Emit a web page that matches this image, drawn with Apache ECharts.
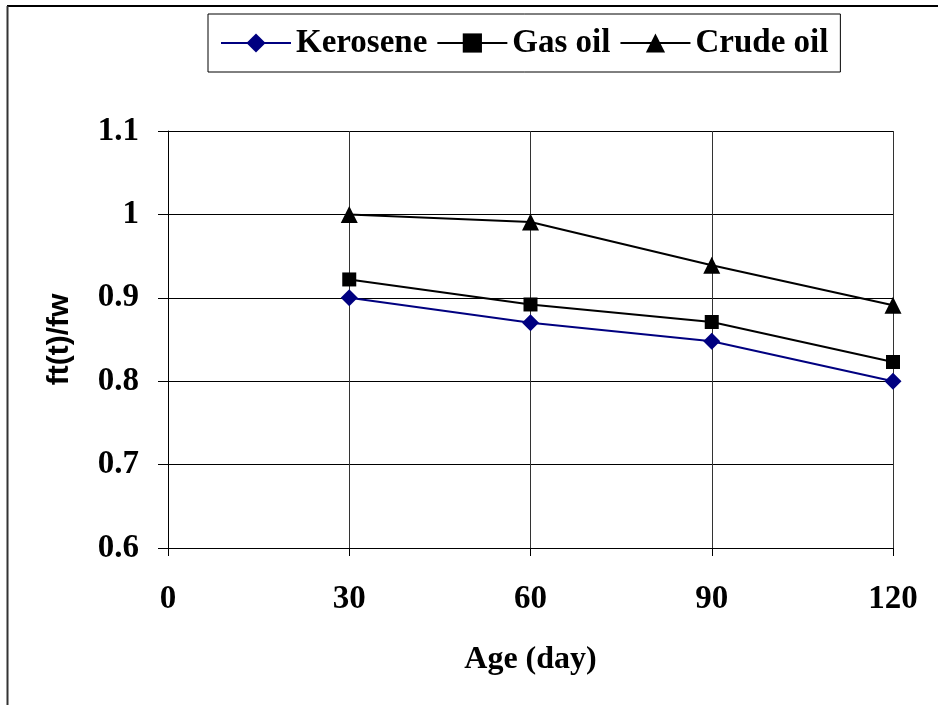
<!DOCTYPE html>
<html>
<head>
<meta charset="utf-8">
<script src="https://cdn.jsdelivr.net/npm/echarts@6/dist/echarts.min.js"></script>
<style>
html,body{margin:0;padding:0;background:#fff;}
#chart{width:938px;height:705px;}
</style>
</head>
<body>
<div id="chart"></div>
<script>
var ages = [30, 60, 90, 120];
var kerosene = [0.900, 0.870, 0.848, 0.800];
var gasOil = [0.922, 0.892, 0.871, 0.823];
var crudeOil = [1.000, 0.991, 0.939, 0.891];
var xTicks = [0, 30, 60, 90, 120];
var yTicks = [0.6, 0.7, 0.8, 0.9, 1.0, 1.1];
var seriesNames = ['Kerosene', 'Gas oil', 'Crude oil'];

function pairs(xs, ys) { return xs.map(function (x, i) { return [x, ys[i]]; }); }

var serif = 'Liberation Serif';
var chart = echarts.init(document.getElementById('chart'), null, { renderer: 'canvas' });
chart.setOption({
  backgroundColor: '#fff',
  animation: false,
  graphic: [
    { type: 'line', shape: { x1: 7, y1: 6, x2: 938, y2: 6 }, style: { stroke: '#000', lineWidth: 2 } },
    { type: 'line', shape: { x1: 7.5, y1: 6, x2: 7.5, y2: 705 }, style: { stroke: '#333', lineWidth: 2 } }
  ],
  legend: {
    data: seriesNames,
    left: 208, top: 14,
    padding: [12, 12, 12, 12],
    borderColor: '#000', borderWidth: 1,
    itemWidth: 70, itemHeight: 24, itemGap: 9,
    lineStyle: { width: 2 },
    textStyle: { fontFamily: serif, fontWeight: 'bold', fontSize: 33, lineHeight: 34, color: '#000' }
  },
  grid: { left: 168, right: 45, top: 131, bottom: 157, containLabel: false },
  xAxis: {
    type: 'value', min: xTicks[0], max: xTicks[xTicks.length - 1], interval: 30,
    name: 'Age (day)', nameLocation: 'middle', nameGap: 96,
    nameTextStyle: { fontFamily: serif, fontWeight: 'bold', fontSize: 32, color: '#000' },
    axisLine: { show: true, onZero: false, lineStyle: { color: '#000', width: 1 } },
    axisTick: { show: true, inside: false, length: 8, lineStyle: { color: '#000' } },
    axisLabel: { margin: 35, fontFamily: serif, fontWeight: 'bold', fontSize: 33, color: '#000' },
    splitLine: { show: true, lineStyle: { color: '#333', width: 1 } }
  },
  yAxis: {
    type: 'value', min: yTicks[0], max: yTicks[yTicks.length - 1], interval: 0.1,
    name: 'ft(t)/fw', nameLocation: 'middle', nameGap: 93, nameRotate: 90,
    nameTextStyle: { fontFamily: 'Liberation Sans', fontWeight: 'bold', fontSize: 30, color: '#000' },
    axisLine: { show: true, onZero: false, lineStyle: { color: '#000', width: 1 } },
    axisTick: { show: true, inside: false, length: 10, lineStyle: { color: '#000' } },
    axisLabel: {
      margin: 29, fontFamily: serif, fontWeight: 'bold', fontSize: 33, color: '#000',
      formatter: function (v) { return String(Math.round(v * 10) / 10); }
    },
    splitLine: { show: true, lineStyle: { color: '#000', width: 1 } }
  },
  series: [
    { name: seriesNames[0], type: 'line', data: pairs(ages, kerosene), symbol: 'diamond', symbolSize: 17,
      itemStyle: { color: '#000080' }, lineStyle: { color: '#000080', width: 2 } },
    { name: seriesNames[1], type: 'line', data: pairs(ages, gasOil), symbol: 'rect', symbolSize: 14,
      itemStyle: { color: '#000' }, lineStyle: { color: '#000', width: 2 } },
    { name: seriesNames[2], type: 'line', data: pairs(ages, crudeOil), symbol: 'triangle', symbolSize: 17,
      itemStyle: { color: '#000' }, lineStyle: { color: '#000', width: 2 } }
  ]
});
</script>
</body>
</html>
